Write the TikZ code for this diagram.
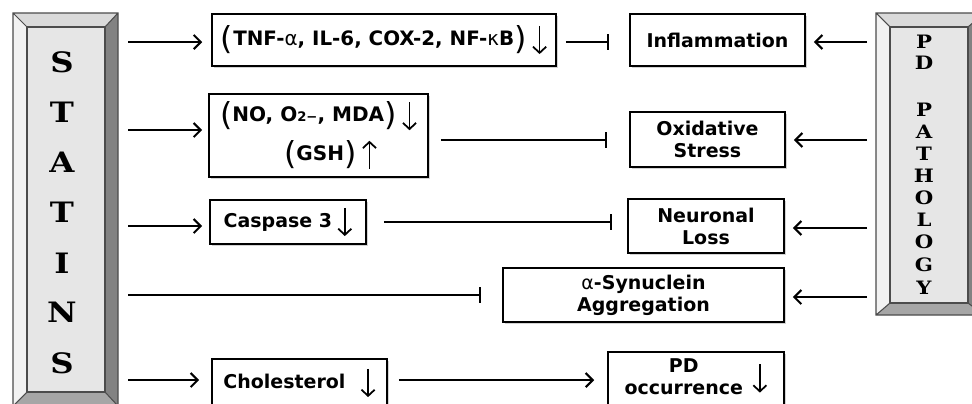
\documentclass[tikz,border=0pt]{standalone}
\usepackage{fontspec}
\newfontfamily\boxfont{DejaVu Sans}
\newfontfamily\letterfont{DejaVu Serif}
\usepackage{tikz}
\usetikzlibrary{arrows.meta,calc,shadows}
\usepackage{xcolor}
\definecolor{BevelLight}{HTML}{F2F2F2}
\definecolor{BevelTop}{HTML}{DADADA}
\definecolor{BevelDark}{HTML}{828282}
\definecolor{BevelBottom}{HTML}{A6A6A6}
\definecolor{BevelFace}{HTML}{E6E6E6}

\newcommand{\dnarr}{\tikz[baseline=0pt]\draw[line width=1pt,-{Straight Barb[length=3.5pt,width=7.5pt]}] (0,11pt) -- (0,-5pt);}
\newcommand{\uparr}{\tikz[baseline=0pt]\draw[line width=1pt,-{Straight Barb[length=3.5pt,width=7.5pt]}] (0,-5pt) -- (0,11pt);}
\newcommand{\lpar}{\raisebox{-2.3pt}{\mdseries\fontsize{18}{18}\selectfont(}}
\newcommand{\rpar}{\raisebox{-2.3pt}{\mdseries\fontsize{18}{18}\selectfont)}}

\tikzset{
  stepnode/.style={draw=black,line width=0.9pt,fill=white,inner sep=2pt,
    font=\boxfont\bfseries\fontsize{10.8}{12.5}\selectfont,align=center,
    drop shadow={shadow xshift=1pt,shadow yshift=-1pt,opacity=.35}},
  statletter/.style={font=\letterfont\bfseries\fontsize{16}{16}\selectfont,inner sep=0pt},
  pdletter/.style={font=\letterfont\bfseries\fontsize{10.5}{10.5}\selectfont,inner sep=0pt},
  act/.style={line width=1.2pt,-{Straight Barb[length=4pt,width=8pt]}},
  inh/.style={line width=1.2pt,-{Bar[width=9pt]}},
}

\begin{document}
\begin{tikzpicture}[x=0.02cm,y=-0.02cm]
   \useasboundingbox (0,0) rectangle (972,403);
   % bevelled side panels
   \foreach \xa/\ya/\xb/\yb/\xc/\yc/\xd/\yd in {13/13/118/406/27/27/105/392,876/13/984/315/890/27/968/303} {
     \fill[BevelTop] (\xa,\ya) -- (\xb,\ya) -- (\xd,\yc) -- (\xc,\yc) -- cycle;
     \fill[BevelLight] (\xa,\ya) -- (\xc,\yc) -- (\xc,\yd) -- (\xa,\yb) -- cycle;
     \fill[BevelDark] (\xb,\ya) -- (\xb,\yb) -- (\xd,\yd) -- (\xd,\yc) -- cycle;
     \fill[BevelBottom] (\xa,\yb) -- (\xb,\yb) -- (\xd,\yd) -- (\xc,\yd) -- cycle;
     \draw[black!70,line width=0.6pt,fill=BevelFace] (\xc,\yc) rectangle (\xd,\yd);
     \draw[black!70,line width=0.6pt] (\xa,\ya) rectangle (\xb,\yb)
       (\xa,\ya) -- (\xc,\yc) (\xb,\ya) -- (\xd,\yc) (\xa,\yb) -- (\xc,\yd) (\xb,\yb) -- (\xd,\yd);
   }
   \foreach \y/\letter in {62/S,112/T,162/A,212/T,263/I,312/N,363/S} {
     \node[statletter] (sl\y) at (62,\y) {\scalebox{1.15}[1]{\letter}};
   }
   \foreach \y/\letter in {42/P,63/D,110/P,132/A,154/T,176/H,198/O,220/L,242/O,265/G,288/Y} {
     \node[pdletter] (pl\y) at (924,\y) {\scalebox{1.15}[1]{\letter}};
   }
   % boxes
   \node[stepnode,minimum width=6.88cm,minimum height=1.04cm,font=\boxfont\bfseries\fontsize{11.3}{13}\selectfont] (cyto) at (384,40)
     {\lpar TNF-{\mdseries α}, IL-6, COX-2, NF-{\mdseries κ}B\rpar\;\dnarr};
   \node[stepnode,minimum width=3.5cm,minimum height=1.04cm] (infl) at (717.5,40) {Inflammation};
   \node[stepnode,minimum width=4.38cm,minimum height=1.66cm,font=\boxfont\bfseries\fontsize{11.4}{13}\selectfont] (ros) at (318.5,135.5)
     {\lpar NO, O{\fontsize{7.5}{7.5}\selectfont 2−}, MDA\rpar\;\dnarr\\[4pt]
      \hspace*{1.2em}\lpar GSH\rpar\;\uparr};
   \node[stepnode,minimum width=3.1cm,minimum height=1.1cm] (oxid) at (707.5,139.5) {Oxidative\\Stress};
   \node[stepnode,minimum width=3.12cm,minimum height=0.88cm] (casp) at (288,222) {Caspase 3\;\dnarr};
   \node[stepnode,minimum width=3.12cm,minimum height=1.08cm] (neur) at (706,226) {Neuronal\\Loss};
   \node[stepnode,minimum width=5.62cm,minimum height=1.08cm] (syn) at (643.5,295)
     {{\mdseries α}-Synuclein\\Aggregation};
   \node[stepnode,minimum width=3.5cm,minimum height=0.96cm] (chol) at (299.5,383) {Cholesterol\hspace{0.8em}\dnarr};
   \node[stepnode,minimum width=3.52cm,minimum height=1.08cm] (pdocc) at (696,379)
     {\begin{tabular}{@{}c@{}}PD\\occurrence\end{tabular}\hspace{0.5em}\dnarr};
   % free ends
   \coordinate (s1) at (128,42);
   \coordinate (s2) at (128,130);
   \coordinate (s3) at (128,226);
   \coordinate (s4) at (128,295);
   \coordinate (s5) at (128,380);
   \coordinate (p1) at (867,42);
   \coordinate (p2) at (867,140);
   \coordinate (p3) at (867,228);
   \coordinate (p4) at (867,297);
   % statins side
   \draw[act,shorten >=0.18cm] (s1) -- (s1 -| cyto.west);
   \draw[act,shorten >=0.12cm] (s2) -- (s2 -| ros.west);
   \draw[act,shorten >=0.14cm] (s3) -- (s3 -| casp.west);
   \draw[inh,shorten >=0.42cm] (s4) -- (s4 -| syn.west);
   \draw[act,shorten >=0.24cm] (s5) -- (s5 -| chol.west);
   \draw[inh,shorten <=0.18cm,shorten >=0.4cm] (s1 -| cyto.east) -- (s1 -| infl.west);
   \draw[inh,shorten <=0.24cm,shorten >=0.44cm] (p2 -| ros.east) -- (p2 -| oxid.west);
   \draw[inh,shorten <=0.34cm,shorten >=0.3cm] (casp.east) -- (casp.east -| neur.west);
   \draw[act,shorten <=0.22cm,shorten >=0.26cm] (s5 -| chol.east) -- (s5 -| pdocc.west);
   % pathology side
   \draw[act,shorten >=0.16cm] (p1) -- (p1 -| infl.east);
   \draw[act,shorten >=0.16cm] (p2) -- (p2 -| oxid.east);
   \draw[act,shorten >=0.16cm] (p3) -- (p3 -| neur.east);
   \draw[act,shorten >=0.16cm] (p4) -- (p4 -| syn.east);
\end{tikzpicture}
\end{document}
